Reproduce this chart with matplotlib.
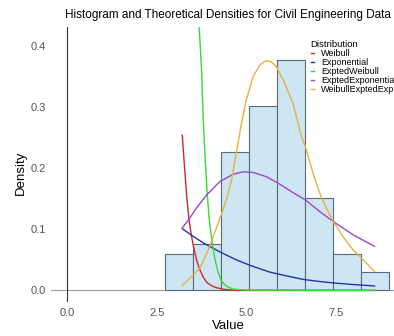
"""Histogram with fitted theoretical densities (civil engineering data)."""
import matplotlib
matplotlib.use("Agg")
import matplotlib.pyplot as plt
from matplotlib.lines import Line2D

plt.rcParams["font.family"] = ["Liberation Sans", "DejaVu Sans"]

# histogram (density scale)
bin_edges = [2.74, 3.52, 4.30, 5.08, 5.86, 6.64, 7.42, 8.20, 8.98]
bin_density = [0.060, 0.076, 0.226, 0.302, 0.377, 0.151, 0.060, 0.030]

# fitted curves
weibull_x = [3.21, 3.28, 3.34, 3.40, 3.46, 3.53, 3.61, 3.70, 3.80, 3.90,
             4.02, 4.15, 4.35, 4.55, 4.80, 8.58]
weibull_y = [0.254, 0.197, 0.150, 0.115, 0.092, 0.070, 0.050, 0.034, 0.021,
             0.013, 0.008, 0.0045, 0.002, 0.0007, 0.0, 0.0]

expo_x = [3.21, 3.50, 3.79, 4.26, 4.72, 5.10, 5.65, 6.10, 6.58, 7.05, 7.51,
          8.00, 8.58]
expo_y = [0.101, 0.089, 0.078, 0.063, 0.050, 0.041, 0.030, 0.024, 0.018,
          0.0145, 0.0118, 0.0095, 0.0072]

exw_x = [3.21, 3.40, 3.55, 3.68, 3.75, 3.79, 3.84, 3.90, 3.96, 4.03, 4.12,
         4.21, 4.30, 4.40, 4.50, 4.65, 5.00, 8.58]
exw_y = [1.20, 0.85, 0.62, 0.433, 0.361, 0.290, 0.225, 0.165, 0.118, 0.085,
         0.052, 0.030, 0.016, 0.009, 0.005, 0.002, 0.0005, 0.0]

exe_x = [3.21, 3.38, 3.61, 3.89, 4.26, 4.63, 4.91, 5.19, 5.56, 5.90, 6.25,
         6.65, 7.05, 7.42, 7.98, 8.58]
exe_y = [0.102, 0.115, 0.135, 0.156, 0.178, 0.190, 0.194, 0.193, 0.186,
         0.175, 0.162, 0.148, 0.129, 0.113, 0.091, 0.072]

wee_x = [3.21, 3.50, 3.70, 3.95, 4.15, 4.31, 4.45, 4.59, 4.72, 4.86, 5.00,
         5.19, 5.38, 5.55, 5.70, 5.84, 6.07, 6.30, 6.42, 6.54, 6.65, 6.86,
         7.05, 7.28, 7.42, 7.70, 7.98, 8.26, 8.58]
wee_y = [0.008, 0.024, 0.036, 0.068, 0.100, 0.126, 0.150, 0.181, 0.225,
         0.272, 0.312, 0.350, 0.369, 0.376, 0.374, 0.366, 0.339, 0.306,
         0.279, 0.252, 0.235, 0.192, 0.159, 0.129, 0.113, 0.088, 0.066,
         0.050, 0.031]

series = [
    ("Weibull", weibull_x, weibull_y, "#cc2a2a"),
    ("Exponential", expo_x, expo_y, "#2233aa"),
    ("ExptedWeibull", exw_x, exw_y, "#33dd33"),
    ("ExptedExponential", exe_x, exe_y, "#9a48d0"),
    ("WeibullExptedExp", wee_x, wee_y, "#e8b040"),
]

fig = plt.figure(figsize=(3.94, 3.36), dpi=100)
# panel runs past the right edge of the picture, like the cropped original
ax = fig.add_axes([51.2 / 394, 1 - 302 / 336, (405 - 51.2) / 394, 275 / 336])

widths = [b - a for a, b in zip(bin_edges[:-1], bin_edges[1:])]
ax.bar(bin_edges[:-1], bin_density, width=widths, align="edge",
       color="#cde6f3", edgecolor="#5e6a73", linewidth=0.8, zorder=2)

ax.axhline(0, color="#999999", lw=0.8, zorder=1)
ax.axvline(0, color="#333333", lw=0.8, zorder=1)

for name, xs, ys, col in series:
    ax.plot(xs, ys, color=col, lw=1.0, zorder=3)

ax.set_xlim(-0.449, 9.43)
ax.set_ylim(-0.019, 0.431)
ax.set_xticks([0.0, 2.5, 5.0, 7.5])
ax.set_xticklabels(["0.0", "2.5", "5.0", "7.5"])
ax.set_yticks([0.0, 0.1, 0.2, 0.3, 0.4])
ax.set_yticklabels(["0.0", "0.1", "0.2", "0.3", "0.4"])
ax.tick_params(length=0, labelsize=8, colors="#555555", pad=4)
for s in ax.spines.values():
    s.set_visible(False)

handles = [Line2D([], [], color=c, lw=1.0) for _, _, _, c in series]
labels = [n for n, _, _, _ in series]
leg = ax.legend(handles, labels, title="Distribution", loc="upper left",
                bbox_to_anchor=((306 - 51.2) / (405 - 51.2), 0.968),
                frameon=False, fontsize=6.5, title_fontsize=6.8,
                handlelength=0.35, handletextpad=0.8, labelspacing=0.0,
                borderpad=0, alignment="left")

fig.text(228 / 394, 1 - 15 / 336,
         "Histogram and Theoretical Densities for Civil Engineering Data",
         ha="center", va="center", fontsize=8.5)
fig.text(228 / 394, 1 - 326 / 336, "Value", ha="center", va="center",
         fontsize=9.5)
fig.text(21 / 394, 1 - 173 / 336, "Density", ha="center", va="center",
         rotation=90, fontsize=9.5)

fig.savefig("out.png", dpi=100)
plt.close(fig)
